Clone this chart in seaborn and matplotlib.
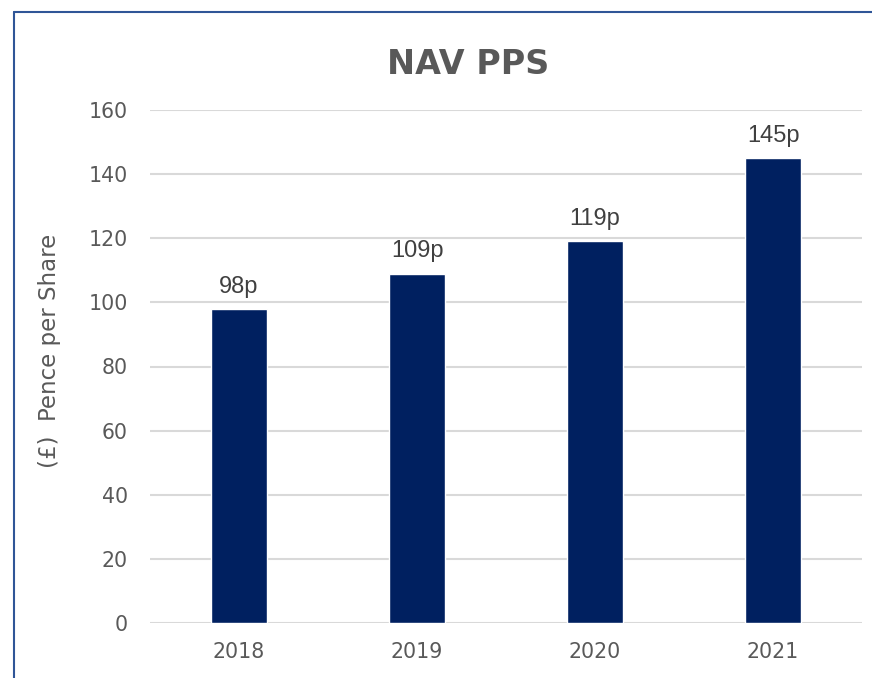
import matplotlib
matplotlib.use("Agg")
import matplotlib.pyplot as plt
import seaborn as sns
import pandas as pd
from matplotlib.lines import Line2D

years = ["2018", "2019", "2020", "2021"]
nav_pps = [98, 109, 119, 145]
bar_labels = ["98p", "109p", "119p", "145p"]
yticks = [0, 20, 40, 60, 80, 100, 120, 140, 160]

sns.set_theme(style="white")
plt.rcParams['font.family'] = ['DejaVu Sans']

df = pd.DataFrame({"year": years, "nav": nav_pps})

fig = plt.figure(figsize=(8.72, 6.78), dpi=100)
ax = fig.add_axes([150/872, 1-623/678, 712/872, 513/678])

sns.barplot(data=df, x="year", y="nav", color="#002060", width=0.31,
            saturation=1, ax=ax, zorder=3)

ax.set_ylim(0, 160)
ax.set_yticks(yticks)
ax.yaxis.grid(True, color="#D9D9D9", linewidth=1.5, zorder=0)
ax.set_axisbelow(True)
for s in ax.spines.values():
    s.set_visible(False)
ax.tick_params(axis="both", length=0, labelsize=14.8, labelcolor="#595959")
ax.tick_params(axis="y", pad=16)
ax.tick_params(axis="x", pad=14)
ax.set_xlabel("")
ax.set_ylabel("(£)  Pence per Share", fontsize=16.5, color="#595959")
ax.yaxis.set_label_coords((61 - 150) / 712, (623 - 351) / 513)

for cont in ax.containers:
    ax.bar_label(cont, labels=bar_labels, padding=8, fontsize=17,
                 color="#404040", family="Liberation Sans")

fig.text(468/872, 1-65/678, "NAV PPS", ha="center", va="center",
         fontsize=24, fontweight="bold", color="#595959")

# chart frame lines (top and left)
fig.add_artist(Line2D([14/872, 1], [1-12/678, 1-12/678], color="#2F5597", linewidth=1.5,
                      transform=fig.transFigure))
fig.add_artist(Line2D([14/872, 14/872], [0, 1-12/678], color="#2F5597", linewidth=1.5,
                      transform=fig.transFigure))

fig.savefig("out.png", dpi=100)
